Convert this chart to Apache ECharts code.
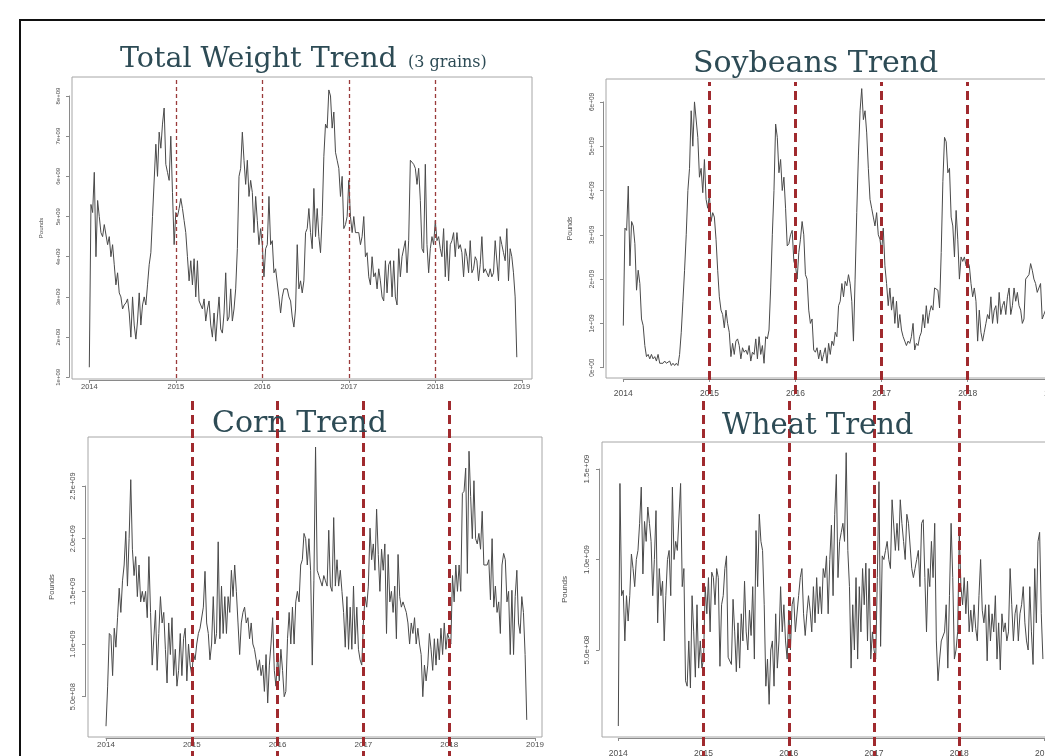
<!DOCTYPE html>
<html><head><meta charset="utf-8">
<script src="https://cdn.jsdelivr.net/npm/echarts@6/dist/echarts.min.js"></script>
<style>html,body{margin:0;padding:0;background:#fff}#c{width:1045px;height:756px}</style>
</head><body><div id="c"></div>
<script>
// ---------- data (billions of pounds, weekly from 2014-01) ----------
const startYear = 2014;
const weeksPerYear = 52;
const yearTicks = [2014, 2015, 2016, 2017, 2018, 2019];
const yearLabels = ['2014', '2015', '2016', '2017', '2018', '2019'];
const boundaryYears = [2015, 2016, 2017, 2018];

const totalTickValues = [1, 2, 3, 4, 5, 6, 7, 8];
const totalTickLabels = ['1e+09', '2e+09', '3e+09', '4e+09', '5e+09', '6e+09', '7e+09', '8e+09'];
const soyTickValues = [0, 1, 2, 3, 4, 5, 6];
const soyTickLabels = ['0e+00', '1e+09', '2e+09', '3e+09', '4e+09', '5e+09', '6e+09'];
const cornTickValues = [0.5, 1.0, 1.5, 2.0, 2.5];
const cornTickLabels = ['5.0e+08', '1.0e+09', '1.5e+09', '2.0e+09', '2.5e+09'];
const wheatTickValues = [0.5, 1.0, 1.5];
const wheatTickLabels = ['5.0e+08', '1.0e+09', '1.5e+09'];

const total2014 = [1.25,5.3,5.1,6.1,4.0,5.4,5.0,4.6,4.5,4.8,4.8,4.3,4.5,4.0,4.3,3.8,3.3,3.6,3.1,3.0,2.7,2.8,2.85,2.95,2.6,2.0,3.0,2.3,1.95,2.4,3.1,2.3,2.8,3.0,2.8,3.3,3.8,4.1,5.0,5.0,6.8,6.0,7.1,6.7,7.3,7.7,6.3,6.1,5.9,7.0,5.6,4.3];
const total2015 = [5.1,5.0,5.2,5.45,5.2,4.9,4.6,4.0,3.4,3.9,3.3,3.95,3.0,3.9,2.9,2.8,2.7,2.95,2.4,2.7,2.9,2.3,2.0,2.6,1.9,2.5,3.0,2.2,2.1,2.6,3.6,2.4,2.5,3.2,2.4,2.7,3.2,4.2,6.0,6.2,7.1,6.4,5.8,6.4,5.5,5.9,5.6,4.6,5.5,4.9,4.3,4.7];
const total2016 = [4.3,3.5,4.2,4.3,5.5,4.3,4.4,3.6,3.7,3.7,3.0,2.6,3.0,3.2,3.2,3.2,3.0,2.9,2.5,2.25,2.7,4.3,3.2,3.4,3.1,3.4,4.6,4.7,5.2,4.6,4.2,5.7,4.5,5.2,4.5,4.1,5.0,6.5,7.3,7.2,8.15,8.0,7.2,7.6,6.6,6.4,6.2,5.5,6.0,4.7,4.8,5.0];
const total2017 = [5.9,5.0,4.6,5.0,4.6,4.6,4.6,4.3,4.5,5.0,4.0,4.1,3.5,3.3,4.0,3.5,3.6,3.2,3.7,3.4,3.0,2.9,3.9,3.1,3.8,3.9,3.0,3.9,3.0,2.8,4.2,3.5,4.0,4.0,4.4,3.6,4.4,6.4,6.4,6.3,6.2,5.8,6.2,5.4,4.2,4.1,6.3,4.3,3.6,4.2,4.5,4.3];
const total2018 = [4.9,4.4,4.5,4.2,4.0,4.7,3.5,4.4,3.4,4.3,4.4,4.6,4.0,4.6,4.2,4.3,4.1,3.5,4.2,4.0,3.6,4.4,3.6,3.7,4.0,3.9,3.4,3.8,4.5,3.6,3.7,3.6,3.5,3.7,3.5,3.6,4.4,4.4,3.4,4.5,4.3,4.1,3.9,4.7,3.4,4.2,4.0,3.6,3.0,1.5];

const soy2014 = [0.95,3.15,3.1,4.1,2.3,3.3,3.2,2.8,1.75,2.2,1.9,1.1,0.95,0.5,0.25,0.3,0.2,0.3,0.2,0.25,0.15,0.3,0.1,0.12,0.1,0.15,0.1,0.12,0.15,0.05,0.1,0.05,0.1,0.05,0.3,0.8,1.5,2.2,3.0,4.0,4.5,5.8,5.0,6.0,6.0,5.2,4.3,4.5,3.95,4.7,3.8,3.6];
const soy2015 = [3.9,3.3,3.5,3.4,2.9,2.2,1.6,1.3,1.2,0.9,1.3,1.0,0.8,0.25,0.55,0.3,0.6,0.65,0.5,0.2,0.45,0.35,0.4,0.3,0.5,0.15,0.35,0.3,0.65,0.2,0.7,0.3,0.5,0.1,0.7,0.65,0.85,1.8,3.0,4.0,5.5,5.2,4.4,4.7,4.0,4.3,3.6,2.75,2.8,3.0,3.1,2.4];
const soy2016 = [2.3,2.0,2.6,2.9,3.3,3.0,2.1,2.0,1.3,1.0,1.1,0.4,0.35,0.45,0.2,0.4,0.15,0.3,0.45,0.1,0.55,0.3,0.6,0.5,0.8,0.7,1.4,1.5,1.9,1.6,1.95,1.85,2.1,1.9,1.5,0.6,2.0,3.5,4.8,5.8,6.3,5.6,5.8,5.3,4.5,3.8,3.6,3.4,3.2,3.5,3.0,2.9];
const soy2017 = [2.6,3.15,2.3,1.9,1.4,1.8,1.3,1.6,1.0,1.5,0.9,1.2,0.85,0.7,0.6,0.5,0.6,0.55,0.7,1.0,0.4,0.55,0.5,0.7,0.8,1.2,0.9,1.4,1.0,1.25,1.4,1.3,1.8,1.8,1.75,1.35,2.6,4.2,5.2,5.1,4.4,4.5,3.4,3.2,2.5,3.55,2.9,2.0,2.5,2.4,2.5,2.3];
const soy2018 = [2.4,2.3,1.9,1.6,1.8,1.5,0.6,1.3,0.8,0.6,0.8,1.0,1.2,1.1,1.6,1.0,1.3,1.4,1.0,1.7,1.2,1.4,1.5,1.2,1.6,1.8,1.2,1.4,1.8,1.5,1.7,1.4,1.3,1.0,1.1,2.0,2.0,2.1,2.35,2.2,2.0,1.9,1.7,1.8,1.9,1.1,1.2,1.3,1.0,0.9];

const corn2014 = [0.22,0.6,1.1,1.08,0.7,1.15,0.97,1.25,1.53,1.3,1.6,1.75,2.07,1.55,2.0,2.56,1.9,1.65,1.83,1.45,1.75,1.4,1.5,1.4,1.5,1.25,1.83,1.3,0.8,0.8,1.32,0.75,1.1,1.45,1.2,1.3,0.95,0.63,1.2,0.9,1.25,0.7,0.95,0.6,0.75,1.1,0.7,1.05,1.15,0.65,1.0,0.8];
const corn2015 = [0.7,0.91,0.85,1.0,1.1,1.15,1.15,1.35,1.69,1.2,1.1,0.85,1.0,1.45,1.0,1.1,1.97,1.05,1.55,1.1,1.45,1.1,1.45,1.3,1.7,1.45,1.75,1.5,1.2,0.9,1.2,1.3,1.35,1.2,1.25,1.05,1.2,1.0,0.95,0.85,0.75,0.85,0.7,0.8,0.55,0.9,0.44,0.8,1.0,1.25,0.75,0.6];
const corn2016 = [0.9,0.65,0.95,0.75,0.5,0.55,1.05,1.3,1.0,1.35,1.0,1.4,1.5,1.4,1.75,1.8,2.05,2.0,1.75,2.0,1.7,0.8,1.6,2.87,1.7,1.65,1.6,1.55,1.65,1.6,1.55,2.08,1.55,1.5,2.2,1.55,1.8,1.55,1.7,1.5,1.3,0.97,1.45,0.95,1.35,0.95,1.55,1.0,1.35,0.95,0.85,0.8];
const corn2017 = [1.2,1.45,1.35,1.55,2.1,1.8,1.95,1.7,2.28,1.85,1.5,1.9,1.7,1.95,1.1,1.85,1.4,1.5,1.3,1.55,1.05,1.85,1.45,1.35,1.4,1.35,1.3,1.2,1.0,1.2,1.1,1.25,1.0,1.15,1.0,0.9,0.5,0.8,0.65,0.8,1.1,0.95,0.75,1.05,0.8,1.05,0.85,1.15,0.9,1.2,0.95,1.1];
const corn2018 = [1.05,1.0,1.65,1.4,1.75,1.5,1.75,1.5,2.43,2.45,2.67,1.67,2.83,2.4,2.0,2.55,2.0,1.95,2.05,1.9,2.26,1.75,1.75,1.75,1.8,1.42,2.0,1.35,1.55,1.3,1.4,1.1,1.75,1.86,1.8,1.4,1.5,0.9,1.51,0.9,1.45,1.7,1.2,1.1,1.45,1.3,0.9,0.28];

const wheat2014 = [0.08,1.42,0.8,0.83,0.55,0.8,0.66,0.8,1.03,0.95,0.85,1.0,1.05,1.2,1.4,0.92,1.21,1.1,1.29,1.2,1.1,0.8,1.0,1.27,0.65,0.95,0.8,0.88,0.55,0.8,1.0,1.05,0.8,1.4,1.0,1.1,1.05,1.05,1.42,0.85,0.95,0.33,0.3,0.55,0.29,0.8,0.6,0.35,0.75,0.4,0.55,0.4];
const wheat2015 = [0.45,0.85,0.7,0.9,0.6,0.93,0.9,0.75,0.95,0.9,0.41,0.75,0.8,0.95,1.02,0.46,0.45,0.42,0.78,0.6,0.38,0.65,0.4,0.7,0.55,0.88,0.6,0.5,0.72,0.58,0.85,0.45,1.16,0.85,1.25,1.1,1.05,0.75,0.3,0.45,0.2,0.5,0.55,0.3,0.7,0.4,0.55,0.85,0.6,0.75,0.55,0.45];
const wheat2016 = [0.72,0.5,0.75,0.79,0.6,0.6,0.8,0.9,0.95,0.7,0.58,0.7,0.8,0.72,0.6,0.85,0.65,0.9,0.7,0.85,0.7,0.95,0.9,1.02,0.7,1.0,1.19,0.8,1.25,1.47,0.9,1.1,1.15,1.2,1.1,1.59,1.05,0.85,0.4,0.75,0.5,0.9,0.45,0.85,0.6,0.95,0.75,0.98,0.55,0.95,0.45,0.6];
const wheat2017 = [0.5,0.45,0.9,1.43,0.52,1.02,1.0,1.05,1.1,1.0,0.95,1.33,1.32,1.05,1.2,1.05,1.33,1.2,1.1,1.0,1.25,1.2,1.2,0.95,0.9,0.95,1.0,1.05,0.85,1.2,1.22,0.9,0.6,0.95,0.85,1.1,0.9,1.2,0.55,0.33,0.45,0.55,0.55,0.6,0.75,0.4,0.8,1.2,0.9,0.45,0.5,0.6];
const wheat2018 = [1.15,0.85,0.75,0.9,0.7,0.88,0.6,0.72,0.6,0.75,0.62,0.55,0.8,1.0,0.72,0.65,0.75,0.44,0.75,0.55,0.7,0.6,0.8,0.45,0.65,0.39,0.7,0.6,0.65,0.55,0.6,0.95,0.75,0.55,0.7,0.75,0.55,0.7,0.75,0.85,0.65,0.55,0.5,0.85,0.6,0.42,0.95,0.65,1.1,1.15,0.7,0.45];

// ---------- layout ----------
const panels = [
  { values: [].concat(total2014, total2015, total2016, total2017, total2018),
    yTicks: totalTickValues, yLabels: totalTickLabels,
    box: {left: 72, top: 77, width: 460, height: 302}, xAnchor: {px: 89.3, perYear: 86.5},
    yAnchor: {value: 1, px: 377.3, perUnit: 40.19},
    dash: {top: 80, bottom: 378, width: 1.3, type: [4, 3], color: '#9a3b3b'},
    nameGap: 28, nameFont: 6, xFont: 7.5, xMargin: 3, yFont: 6, yMargin: 8 },
  { values: [].concat(soy2014, soy2015, soy2016, soy2017, soy2018),
    yTicks: soyTickValues, yLabels: soyTickLabels,
    box: {left: 606, top: 79, width: 470, height: 299}, xAnchor: {px: 623.3, perYear: 86.1},
    yAnchor: {value: 0, px: 367.7, perUnit: 44.3},
    dash: {top: 82, bottom: 394, width: 3, type: [9, 5], color: '#a02a2e'},
    nameGap: 32, nameFont: 7, xFont: 8.5, xMargin: 10, yFont: 6.5, yMargin: 7 },
  { values: [].concat(corn2014, corn2015, corn2016, corn2017, corn2018),
    yTicks: cornTickValues, yLabels: cornTickLabels,
    box: {left: 88, top: 437, width: 454, height: 300}, xAnchor: {px: 106, perYear: 85.8},
    yAnchor: {value: 0.5, px: 696.7, perUnit: 105.35},
    dash: {top: 401, bottom: 760, width: 3, type: [9, 5], color: '#a02a2e'},
    nameGap: 32, nameFont: 7.5, xFont: 8, xMargin: 3, yFont: 7.5, yMargin: 8 },
  { values: [].concat(wheat2014, wheat2015, wheat2016, wheat2017, wheat2018),
    yTicks: wheatTickValues, yLabels: wheatTickLabels,
    box: {left: 602, top: 442, width: 470, height: 295}, xAnchor: {px: 618.3, perYear: 85.25},
    yAnchor: {value: 0.5, px: 650, perUnit: 181},
    dash: {top: 397, bottom: 760, width: 3, type: [9, 5], color: '#a02a2e'},
    nameGap: 33, nameFont: 8, xFont: 8.5, xMargin: 11, yFont: 8, yMargin: 8 }
];

const titles = [
  {text: 'Total Weight Trend', left: 120, top: 43, size: 28.5},
  {text: '(3 grains)', left: 408, top: 53, size: 16},
  {text: 'Soybeans Trend', left: 693, top: 46, size: 30},
  {text: 'Corn Trend', left: 212, top: 406, size: 30},
  {text: 'Wheat Trend', left: 722, top: 409, size: 29}
];

const axisColor = '#8a8a8a';
const labelColor = '#4d4d4d';
const grid = [], xAxis = [], yAxis = [], series = [];
const hidden = {axisLine: {show: false}, axisTick: {show: false}, axisLabel: {show: false}, splitLine: {show: false}};
const noBounds = {outerBoundsMode: 'none', containLabel: false};

function labelFor(ticks, labels, v) {
  let best = 0;
  for (let i = 1; i < ticks.length; i++) if (Math.abs(ticks[i] - v) < Math.abs(ticks[best] - v)) best = i;
  return labels[best];
}

panels.forEach(p => {
  const b = p.box;
  const xMin = startYear - (p.xAnchor.px - b.left) / p.xAnchor.perYear;
  const xMax = xMin + b.width / p.xAnchor.perYear;
  const bottom = b.top + b.height;
  const yMin = p.yAnchor.value - (bottom - p.yAnchor.px) / p.yAnchor.perUnit;
  const yMax = p.yAnchor.value + (p.yAnchor.px - b.top) / p.yAnchor.perUnit;

  // main plot box
  const gi = grid.length;
  grid.push(Object.assign({left: b.left, top: b.top, width: b.width, height: b.height, show: true,
             borderColor: '#a6a6a6', borderWidth: 1, backgroundColor: 'transparent'}, noBounds));
  xAxis.push(Object.assign({type: 'value', gridIndex: gi, min: xMin, max: xMax}, hidden));
  yAxis.push(Object.assign({type: 'value', gridIndex: gi, min: yMin, max: yMax,
    name: 'Pounds', nameLocation: 'middle', nameRotate: 90, nameGap: p.nameGap,
    nameTextStyle: {fontSize: p.nameFont, color: labelColor, fontFamily: 'Liberation Sans'}}, hidden));
  series.push({type: 'line', xAxisIndex: gi, yAxisIndex: gi, showSymbol: false, symbol: 'none',
    data: p.values.map((v, i) => [startYear + i / weeksPerYear, v]),
    lineStyle: {color: '#4a4a4a', width: 1}, animation: false, silent: true});

  // x axis spanning the tick range
  const xi = grid.length;
  const x0 = p.xAnchor.px, xw = p.xAnchor.perYear * (yearTicks[yearTicks.length - 1] - yearTicks[0]);
  grid.push(Object.assign({left: x0, top: b.top, width: xw, height: b.height + 1}, noBounds));
  xAxis.push({type: 'value', gridIndex: xi, min: yearTicks[0], max: yearTicks[yearTicks.length - 1], interval: 1,
    axisLine: {show: true, lineStyle: {color: axisColor, width: 1}},
    axisTick: {show: true, length: 3, lineStyle: {color: axisColor}},
    axisLabel: {show: true, fontSize: p.xFont, color: labelColor, fontFamily: 'Liberation Sans', margin: p.xMargin,
      formatter: v => labelFor(yearTicks, yearLabels, v)},
    splitLine: {show: false}});
  yAxis.push(Object.assign({type: 'value', gridIndex: xi, min: 0, max: 1}, hidden));

  // y axis spanning the tick range
  const yi = grid.length;
  const tMin = p.yTicks[0], tMax = p.yTicks[p.yTicks.length - 1];
  const yTopPx = p.yAnchor.px - (tMax - p.yAnchor.value) * p.yAnchor.perUnit;
  const yBotPx = p.yAnchor.px - (tMin - p.yAnchor.value) * p.yAnchor.perUnit;
  grid.push(Object.assign({left: b.left - 3, top: yTopPx, width: b.width, height: yBotPx - yTopPx}, noBounds));
  xAxis.push(Object.assign({type: 'value', gridIndex: yi, min: 0, max: 1}, hidden));
  yAxis.push({type: 'value', gridIndex: yi, min: tMin, max: tMax, interval: p.yTicks[1] - p.yTicks[0],
    axisLine: {show: true, lineStyle: {color: axisColor, width: 1}},
    axisTick: {show: true, length: 3, lineStyle: {color: axisColor}},
    axisLabel: {show: true, fontSize: p.yFont, color: labelColor, fontFamily: 'Liberation Sans', rotate: 90, margin: p.yMargin,
      formatter: v => labelFor(p.yTicks, p.yLabels, v)},
    splitLine: {show: false}});

  // year-boundary dashed lines
  const di = grid.length;
  grid.push(Object.assign({left: b.left, width: b.width, top: p.dash.top, height: p.dash.bottom - p.dash.top}, noBounds));
  xAxis.push(Object.assign({type: 'value', gridIndex: di, min: xMin, max: xMax}, hidden));
  yAxis.push(Object.assign({type: 'value', gridIndex: di, min: 0, max: 1}, hidden));
  series.push({type: 'line', xAxisIndex: di, yAxisIndex: di, data: [], silent: true, animation: false,
    markLine: {silent: true, animation: false, symbol: ['none', 'none'], label: {show: false},
      lineStyle: {color: p.dash.color, width: p.dash.width, type: p.dash.type},
      data: boundaryYears.map(y => ({xAxis: y}))}});
});

const chart = echarts.init(document.getElementById('c'), null, {renderer: 'canvas'});
chart.setOption({
  backgroundColor: '#ffffff',
  animation: false,
  title: titles.map(t => ({text: t.text, left: t.left, top: t.top, padding: 0,
    textStyle: {fontFamily: 'DejaVu Serif', fontWeight: 'normal', fontSize: t.size,
      lineHeight: Math.round(t.size * 1.2), color: '#2d4b55'}})),
  graphic: [{type: 'rect', silent: true, z: 100,
    shape: {x: 20, y: 20, width: 1200, height: 900},
    style: {fill: 'none', stroke: '#111', lineWidth: 2}}],
  grid, xAxis, yAxis, series
});
</script>
</body></html>
